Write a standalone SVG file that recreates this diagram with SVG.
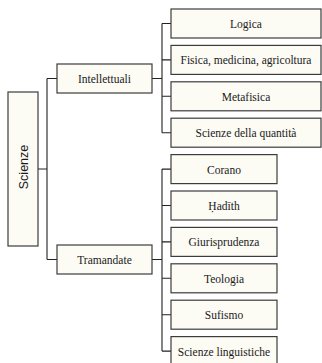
<svg xmlns="http://www.w3.org/2000/svg" width="322" height="363" viewBox="0 0 322 363">
<style>
.box{fill:#fcfbf4;stroke:#3c3c3c;stroke-width:1.2}
.lbl{font-family:'Liberation Serif','Times New Roman','DejaVu Serif',serif;font-size:11.5px;fill:#1a1a1a;text-anchor:middle}
.root{font-family:'Liberation Sans',Arial,sans-serif;font-size:12.5px;fill:#1a1a1a;text-anchor:middle}
.ln{fill:none;stroke:#222;stroke-width:1.1}
</style>
<rect x="0" y="0" width="322" height="363" fill="#ffffff"/>
<g id="connectors">
<path class="ln" d="M38,169H47M47,78.5V259.5M47,78.5H57M47,259.5H57"/>
<path class="ln" d="M152,78.5H162M162,23.5V132.7M162,23.5H171M162,59.9H171M162,96.3H171M162,132.7H171"/>
<path class="ln" d="M152,259.5H162M162,169.1V351.1M162,169.1H171M162,205.5H171M162,241.9H171M162,278.3H171M162,314.7H171M162,351.1H171"/>
</g>
<g id="scienze">
<rect class="box" x="8" y="92" width="30" height="154"/>
<text class="root" transform="translate(27.5,167) rotate(-90)">Scienze</text>
</g>
<g id="intellettuali">
<rect class="box" x="57" y="64" width="95" height="29"/>
<text class="lbl" x="104.5" y="82.5">Intellettuali</text>
</g>
<g id="tramandate">
<rect class="box" x="57" y="245" width="95" height="29"/>
<text class="lbl" x="104.5" y="263.5">Tramandate</text>
</g>
<g id="logica">
<rect class="box" x="171" y="9" width="150" height="29"/>
<text class="lbl" x="246" y="28">Logica</text>
</g>
<g id="fisica">
<rect class="box" x="171" y="45.4" width="150" height="29"/>
<text class="lbl" x="246" y="64.4">Fisica, medicina, agricoltura</text>
</g>
<g id="metafisica">
<rect class="box" x="171" y="81.8" width="150" height="29"/>
<text class="lbl" x="246" y="100.8">Metafisica</text>
</g>
<g id="quantita">
<rect class="box" x="171" y="118.2" width="150" height="29"/>
<text class="lbl" x="246" y="137.2">Scienze della quantità</text>
</g>
<g id="corano">
<rect class="box" x="171" y="154.6" width="106" height="29"/>
<text class="lbl" x="224" y="173.6">Corano</text>
</g>
<g id="hadith">
<rect class="box" x="171" y="191" width="106" height="29"/>
<text class="lbl" x="224" y="210">Ḥadīth</text>
</g>
<g id="giurisprudenza">
<rect class="box" x="171" y="227.4" width="106" height="29"/>
<text class="lbl" x="224" y="246.4">Giurisprudenza</text>
</g>
<g id="teologia">
<rect class="box" x="171" y="263.8" width="106" height="29"/>
<text class="lbl" x="224" y="282.8">Teologia</text>
</g>
<g id="sufismo">
<rect class="box" x="171" y="300.2" width="106" height="29"/>
<text class="lbl" x="224" y="319.2">Sufismo</text>
</g>
<g id="linguistiche">
<rect class="box" x="171" y="336.6" width="106" height="29"/>
<text class="lbl" x="224" y="355.6">Scienze linguistiche</text>
</g>
</svg>
